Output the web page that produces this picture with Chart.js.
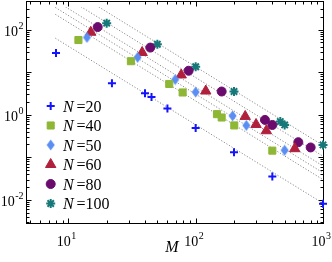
<!DOCTYPE html>
<html>
<head>
<meta charset="UTF-8">
<script src="https://cdn.jsdelivr.net/npm/chart.js"></script>
<style>
  html, body { margin: 0; padding: 0; background: #fff; }
</style>
</head>
<body>
<canvas id="chart" width="332" height="262"></canvas>
<script>
// values
const seriesN = [20, 40, 50, 60, 80, 100];
const m20 = [8, 22, 40, 45, 60, 100, 200, 400, 1000];
const y20 = [28.2, 5.5, 3.2, 2.6, 1.39, 0.49, 0.131, 0.0355, 0.0081];
const m40 = [12, 31, 62, 79, 147, 160, 201, 400];
const y40 = [56.9, 18.1, 5.28, 3.33, 1.03, 0.86, 0.56, 0.143];
const m50 = [14, 35, 69, 100, 195, 250, 500];
const y50 = [65.6, 22.3, 6.7, 3.4, 0.94, 0.56, 0.146];
const m60 = [15, 38, 77, 120, 245, 298, 359, 600];
const y60 = [86.7, 29, 8.6, 3.6, 0.91, 0.59, 0.42, 0.159];
const m80 = [17, 44, 88, 160, 350, 400, 640, 800];
const y80 = [114.7, 37.8, 10.8, 3.51, 0.755, 0.574, 0.226, 0.17];
const m100 = [20, 50, 100, 200, 462, 500, 1000];
const y100 = [141.7, 45.3, 13.4, 3.51, 0.69, 0.574, 0.195];

// dotted guide lines, start and end points
const guideM = [7.9, 1000];
const guide20 = [63, 0.0083];
const guide40 = [229, 0.0298];
const guide50 = [332, 0.0432];
const guide60 = [481, 0.0625];
const guide80 = [814, 0.106];
const guide100 = [1456, 0.19];

const xTicks = [10, 100, 1000];
const xTickExp = ['1', '2', '3'];
const yTicks = [0.01, 1, 100];
const yTickExp = ['-2', '0', '2'];

const FONT = '"Liberation Serif", "DejaVu Serif", serif';

function thinDiamond(color) {
  const c = document.createElement('canvas');
  c.width = 9; c.height = 12;
  const g = c.getContext('2d');
  g.fillStyle = color;
  g.beginPath();
  g.moveTo(4.5, 0.5); g.lineTo(8.5, 6); g.lineTo(4.5, 11.5); g.lineTo(0.5, 6);
  g.closePath();
  g.fill();
  return c;
}

function pts(ms, ys) {
  return ms.map((m, i) => ({ x: m, y: ys[i] }));
}

const marks = [
  { m: m20, y: y20, style: 'cross', color: '#1414ff', r: 4, bw: 2 },
  { m: m40, y: y40, style: 'rect', color: '#8db734', r: 5, bw: 1 },
  { m: m50, y: y50, style: thinDiamond('#5a8ef2'), color: '#5a8ef2', r: 5, bw: 0 },
  { m: m60, y: y60, style: 'triangle', color: '#b0203c', r: 6, bw: 1 },
  { m: m80, y: y80, style: 'circle', color: '#6b0b6d', r: 4.5, bw: 1 },
  { m: m100, y: y100, style: 'star', color: '#167878', r: 4.5, bw: 2 }
];

const guides = [guide20, guide40, guide50, guide60, guide80, guide100];

const datasets = [];
marks.forEach((s, i) => {
  datasets.push({
    label: 'N =' + seriesN[i],
    data: pts(s.m, s.y),
    pointStyle: s.style,
    pointRadius: s.r,
    pointBorderWidth: s.bw,
    pointBackgroundColor: s.color,
    pointBorderColor: s.color,
    showLine: false,
    clip: false,
    order: 0
  });
});
guides.forEach(g => {
  datasets.push({
    data: pts(guideM, g),
    showLine: true,
    borderColor: '#8a8a8a',
    borderWidth: 1,
    borderDash: [1.2, 1.8],
    pointRadius: 0,
    order: 1
  });
});

// frame, inward ticks, tick labels, axis title, legend
const decor = {
  id: 'decor',
  beforeDatasetsDraw(chart) {
    const ctx = chart.ctx;
    const xs = chart.scales.x, ys = chart.scales.y;
    const L = 26.5, R = 323.5, T = 1.5, B = 223.5;
    ctx.save();
    ctx.strokeStyle = '#000';
    ctx.lineWidth = 1;
    ctx.strokeRect(L, T, R - L, B - T);
    ctx.beginPath();
    for (let e = 0; e <= 3; e++) {
      for (let k = 1; k <= 9; k++) {
        const v = k * Math.pow(10, e);
        if (v <= xs.min || v > xs.max) continue;
        const px = Math.round(xs.getPixelForValue(v)) + 0.5;
        const len = k === 1 ? 5 : 3;
        ctx.moveTo(px, B); ctx.lineTo(px, B - len);
        ctx.moveTo(px, T); ctx.lineTo(px, T + len);
      }
    }
    for (let e = -3; e <= 2; e++) {
      for (let k = 1; k <= 9; k++) {
        const v = k * Math.pow(10, e);
        if (v <= ys.min || v >= ys.max) continue;
        const py = Math.round(ys.getPixelForValue(v)) + 0.5;
        const len = k === 1 ? 5 : 3;
        ctx.moveTo(L, py); ctx.lineTo(L + len, py);
        ctx.moveTo(R, py); ctx.lineTo(R - len, py);
      }
    }
    ctx.stroke();

    ctx.fillStyle = '#000';
    ctx.textBaseline = 'alphabetic';
    xTicks.forEach((v, i) => {
      const px = xs.getPixelForValue(v);
      ctx.font = '14px ' + FONT;
      const w1 = ctx.measureText('10').width;
      ctx.font = '10px ' + FONT;
      const w2 = ctx.measureText(xTickExp[i]).width;
      const x0 = px - 2 - (w1 + w2) / 2;
      ctx.font = '14px ' + FONT;
      ctx.fillText('10', x0, 246);
      ctx.font = '10px ' + FONT;
      ctx.fillText(xTickExp[i], x0 + w1 + 0.5, 239);
    });
    yTicks.forEach((v, i) => {
      const py = ys.getPixelForValue(v);
      ctx.font = '10px ' + FONT;
      const w2 = ctx.measureText(yTickExp[i]).width;
      ctx.font = '14px ' + FONT;
      const w1 = ctx.measureText('10').width;
      const x0 = 23 - w2 - w1;
      ctx.fillText('10', x0, py + 6.5);
      ctx.font = '10px ' + FONT;
      ctx.fillText(yTickExp[i], x0 + w1 + 0.5, py - 0.5);
    });
    ctx.font = 'italic 16px ' + FONT;
    ctx.textAlign = 'center';
    ctx.fillText('M', 172, 252);
    ctx.restore();
  },
  afterDraw(chart) {
    const ctx = chart.ctx;
    ctx.save();
    marks.forEach((s, i) => {
      const cy = 106 + i * 19.5;
      ctx.fillStyle = s.color;
      ctx.strokeStyle = s.color;
      ctx.lineWidth = s.bw;
      Chart.helpers.drawPoint(ctx, {
        pointStyle: s.style, radius: s.r, rotation: 0, borderWidth: s.bw
      }, 50.7, cy);
      ctx.fillStyle = '#000';
      ctx.textAlign = 'left';
      ctx.textBaseline = 'alphabetic';
      ctx.font = 'italic 16px ' + FONT;
      ctx.fillText('N', 63, cy + 5.5);
      ctx.font = '16px ' + FONT;
      ctx.fillText('=' + seriesN[i], 76.5, cy + 5.5);
    });
    ctx.restore();
  }
};

new Chart(document.getElementById('chart'), {
  type: 'scatter',
  data: { datasets },
  options: {
    responsive: false,
    animation: false,
    events: [],
    devicePixelRatio: 1,
    layout: { padding: { left: 26, right: 9, top: 1, bottom: 38 } },
    scales: {
      x: { type: 'logarithmic', min: 4.65, max: 1000, display: false },
      y: { type: 'logarithmic', min: 0.0027, max: 340, display: false }
    },
    plugins: { legend: { display: false }, tooltip: { enabled: false } }
  },
  plugins: [decor]
});
</script>
</body>
</html>
